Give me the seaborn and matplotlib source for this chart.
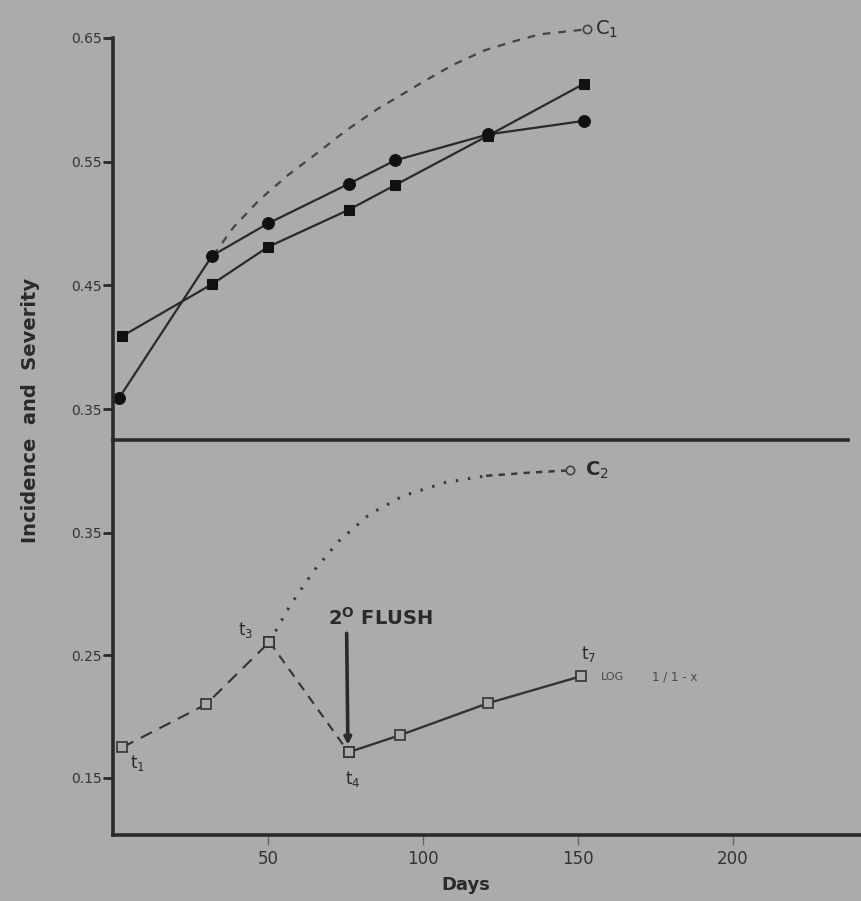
import matplotlib
matplotlib.use("Agg")
import matplotlib.pyplot as plt
import seaborn as sns
import pandas as pd

# ---- data -------------------------------------------------------------
# upper panel: incidence (filled circles) and severity (filled squares)
days_circles = [2, 32, 50, 76, 91, 121, 152]
incidence = [0.359, 0.474, 0.500, 0.532, 0.551, 0.572, 0.583]
days_squares = [3, 32, 50, 76, 91, 121, 152]
severity = [0.409, 0.451, 0.481, 0.511, 0.531, 0.571, 0.613]

# projected curve C1
c1_days = [32.3, 38.9, 47.2, 56.4, 65.9, 75.1, 85.0, 99.7, 109.5, 119.9, 129.0, 137.8, 153.0]
c1_vals = [0.474, 0.497, 0.519, 0.539, 0.557, 0.575, 0.592, 0.614, 0.628, 0.640, 0.647, 0.653, 0.657]

# lower panel: log 1/(1-x) at sampling times t1 ... t7
log_days = [3, 30, 50.5, 76, 92.7, 121, 151]
log_vals = [0.175, 0.210, 0.261, 0.171, 0.185, 0.211, 0.233]

# projected curve C2
c2_days = [50.5, 57.2, 64.8, 72.8, 82.7, 93.5, 107.1, 120.4, 134.0, 147.5]
c2_vals = [0.261, 0.291, 0.319, 0.343, 0.365, 0.380, 0.391, 0.3965, 0.399, 0.401]

top_ticks = [0.35, 0.45, 0.55, 0.65]
bottom_ticks = [0.15, 0.25, 0.35]
x_ticks = [50, 100, 150, 200]

# ---- style ------------------------------------------------------------
BG = "#ababab"
INK = "#2a2a2a"
sns.set_theme(style="white")
plt.rcParams["font.family"] = ["DejaVu Sans"]

fig = plt.figure(figsize=(8.61, 9.01), dpi=100, facecolor=BG)
ax_top = fig.add_axes([0.1312, 0.5117, 0.8676, 0.4750])
ax_bot = fig.add_axes([0.1312, 0.07325, 0.8676, 0.4384])
for ax in (ax_top, ax_bot):
    ax.set_facecolor(BG)
    ax.patch.set_alpha(0)
    ax.set_xlim(0, 241)
    for s in ("top", "right"):
        ax.spines[s].set_visible(False)
    for s in ("left", "bottom"):
        ax.spines[s].set_color(INK)
        ax.spines[s].set_linewidth(2.6)

ax_top.set_ylim(0.325, 0.671)
ax_bot.set_ylim(0.1035, 0.4257)
ax_top.spines["left"].set_bounds(0.325, 0.65)
ax_top.spines["bottom"].set_bounds(0, 237)

# ---- upper panel ------------------------------------------------------
df_c = pd.DataFrame({"day": days_circles, "value": incidence})
df_s = pd.DataFrame({"day": days_squares, "value": severity})
df_c1 = pd.DataFrame({"day": c1_days, "value": c1_vals})

sns.lineplot(data=df_c1, x="day", y="value", ax=ax_top, estimator=None, sort=False,
             color="#444444", linewidth=1.6, linestyle=(0, (3.5, 3.5)))
sns.lineplot(data=df_c1.tail(1), x="day", y="value", ax=ax_top, estimator=None,
             marker="o", markersize=6, markerfacecolor=BG, markeredgecolor="#444444",
             markeredgewidth=1.2, linestyle="none")
sns.lineplot(data=df_s, x="day", y="value", ax=ax_top, estimator=None, sort=False,
             color=INK, linewidth=1.6, marker="s", markersize=7,
             markerfacecolor="#111111", markeredgecolor="#111111")
sns.lineplot(data=df_c, x="day", y="value", ax=ax_top, estimator=None, sort=False,
             color=INK, linewidth=1.6, marker="o", markersize=8.5,
             markerfacecolor="#111111", markeredgecolor="#111111")

ax_top.text(155.5, 0.657, "C$_1$", fontsize=14, color=INK, ha="left", va="center")

# ---- lower panel ------------------------------------------------------
df_log = pd.DataFrame({"day": log_days, "value": log_vals})
df_c2 = pd.DataFrame({"day": c2_days, "value": c2_vals})

sns.lineplot(data=df_c2.iloc[:8], x="day", y="value", ax=ax_bot, estimator=None, sort=False,
             color="#3a3a3a", linewidth=2.2, linestyle=(0, (0.8, 3.2)))
sns.lineplot(data=df_c2.iloc[7:], x="day", y="value", ax=ax_bot, estimator=None, sort=False,
             color="#3a3a3a", linewidth=1.8, linestyle=(0, (2.5, 2.5)))
sns.lineplot(data=df_c2.tail(1), x="day", y="value", ax=ax_bot, estimator=None,
             marker="o", markersize=6, markerfacecolor=BG, markeredgecolor="#444444",
             markeredgewidth=1.2, linestyle="none")

seg_kw = dict(ax=ax_bot, x="day", y="value", estimator=None, sort=False, color="#333333",
              marker="s", markersize=7, markerfacecolor=BG, markeredgecolor="#333333",
              markeredgewidth=1.2)
sns.lineplot(data=df_log.iloc[0:3], linewidth=1.5, linestyle=(0, (6, 4)), **seg_kw)
sns.lineplot(data=df_log.iloc[2:4], linewidth=1.5, linestyle=(0, (4.5, 3.5)), **seg_kw)
sns.lineplot(data=df_log.iloc[3:7], linewidth=1.7, linestyle="-", **seg_kw)

ax_bot.text(152.4, 0.401, "C$_2$", fontsize=14, color=INK, ha="left", va="center",
            fontweight="bold")

# second flush marker
ax_bot.annotate("", xy=(log_days[3] - 0.2, log_vals[3] + 0.006), xytext=(75.4, 0.268),
                arrowprops=dict(arrowstyle="-|>", color=INK, lw=2.6,
                                mutation_scale=10, shrinkA=0, shrinkB=0))
ax_bot.text(69.5, 0.281, r"2$^{\mathbf{O}}$ FLUSH", fontsize=14, color=INK,
            fontweight="bold", ha="left", va="center")

lab_kw = dict(fontsize=12, color=INK, ha="left", va="center")
ax_bot.text(5.5, 0.162, "t$_1$", **lab_kw)
ax_bot.text(40.5, 0.271, "t$_3$", **lab_kw)
ax_bot.text(75.0, 0.149, "t$_4$", **lab_kw)
ax_bot.text(151.0, 0.251, "t$_7$", **lab_kw)
ax_bot.text(157.5, 0.2326, "LOG", fontsize=8, color="#4a4a4a", ha="left", va="center")
ax_bot.text(174.0, 0.2326, "1 / 1 - x", fontsize=8.5, color="#4a4a4a",
            ha="left", va="center")

# ---- ticks ------------------------------------------------------------
ax_top.set_yticks(top_ticks)
ax_top.set_yticklabels([f"{t:.2f}" for t in top_ticks])
ax_bot.set_yticks(bottom_ticks)
ax_bot.set_yticklabels([f"{t:.2f}" for t in bottom_ticks])
for ax in (ax_top, ax_bot):
    ax.tick_params(axis="y", direction="out", length=7, width=2, color=INK,
                   labelsize=10, labelcolor="#333333", pad=1, left=True)
    ax.set_xlabel("")
    ax.set_ylabel("")

ax_top.set_xticks([])
ax_bot.set_xticks(x_ticks)
ax_bot.set_xticklabels([str(t) for t in x_ticks])
ax_bot.tick_params(axis="x", direction="out", length=7, width=1, color="#666666",
                   labelsize=12, labelcolor="#333333", pad=4, bottom=True)

fig.text(0.036, 0.544, "Incidence  and  Severity", rotation=90, ha="center", va="center",
         fontsize=14, fontweight="bold", color=INK)
fig.text(0.541, 0.018, "Days", ha="center", va="center", fontsize=13,
         fontweight="bold", color=INK)

fig.savefig("out.png", dpi=100, facecolor=BG)
